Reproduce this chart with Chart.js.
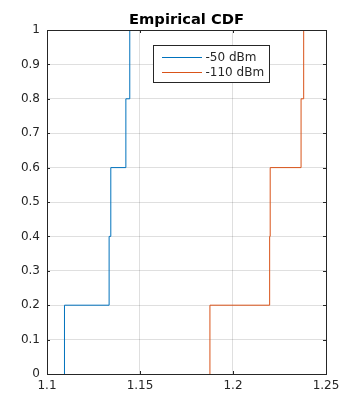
<!DOCTYPE html>
<html>
<head>
<meta charset="utf-8">
<script src="https://cdn.jsdelivr.net/npm/chart.js@4.4.0/dist/chart.umd.min.js"></script>
<style>
  html, body { margin: 0; padding: 0; background: #ffffff; }
  #wrap { width: 360px; height: 420px; position: relative; }
</style>
</head>
<body>
<div id="wrap"><canvas id="c" width="360" height="420"></canvas></div>
<script>
// ---- data ----
const seriesNames = ['-50 dBm', '-110 dBm'];
const samples50 = [1.1094, 1.1334, 1.1343, 1.1424, 1.1445];
const samples110 = [1.1876, 1.2197, 1.2200, 1.2366, 1.2380];
const cdfLevels = [0, 0.2, 0.4, 0.6, 0.8, 1.0];
const xTicks = [1.1, 1.15, 1.2, 1.25];
const xTickLabels = ['1.1', '1.15', '1.2', '1.25'];
const yTicks = [0, 0.1, 0.2, 0.3, 0.4, 0.5, 0.6, 0.7, 0.8, 0.9, 1];
const yTickLabels = ['0', '0.1', '0.2', '0.3', '0.4', '0.5', '0.6', '0.7', '0.8', '0.9', '1'];
const titleText = 'Empirical CDF';

// staircase points: start at (x1, 0), then (x_i, F_i)
function ecdfPoints(samples) {
  const pts = [{ x: samples[0], y: cdfLevels[0] }];
  samples.forEach((s, i) => pts.push({ x: s, y: cdfLevels[i + 1] }));
  return pts;
}

const AX = '#262626';
const FONT = 'DejaVu Sans';

const boxPlugin = {
  id: 'boxPlugin',
  afterDraw(chart) {
    const ctx = chart.ctx;
    const a = chart.chartArea;
    const xs = chart.scales.x, ys = chart.scales.y;
    ctx.save();
    // inner ticks
    ctx.strokeStyle = AX;
    ctx.lineWidth = 1;
    const tl = 3;
    ctx.beginPath();
    xTicks.forEach(v => {
      const px = Math.round(xs.getPixelForValue(v)) + 0.5;
      ctx.moveTo(px, a.bottom); ctx.lineTo(px, a.bottom - tl);
      ctx.moveTo(px, a.top); ctx.lineTo(px, a.top + tl);
    });
    yTicks.forEach(v => {
      const py = Math.round(ys.getPixelForValue(v)) + 0.5;
      ctx.moveTo(a.left, py); ctx.lineTo(a.left + tl, py);
      ctx.moveTo(a.right, py); ctx.lineTo(a.right - tl, py);
    });
    ctx.stroke();
    // box
    ctx.strokeRect(Math.round(a.left) + 0.5, Math.round(a.top) + 0.5,
                   Math.round(a.right - a.left), Math.round(a.bottom - a.top));
    // legend
    const lx = a.left + 106.5, ly = a.top + 15.5, lw = 116, lh = 37;
    ctx.fillStyle = '#ffffff';
    ctx.fillRect(lx, ly, lw, lh);
    ctx.strokeStyle = AX;
    ctx.strokeRect(lx, ly, lw, lh);
    ctx.font = '12px "' + FONT + '"';
    ctx.textBaseline = 'middle';
    ctx.textAlign = 'left';
    chart.data.datasets.forEach((ds, i) => {
      const ry = ly + 11.5 + i * 15;
      ctx.strokeStyle = ds.borderColor;
      ctx.lineWidth = 1;
      ctx.beginPath();
      ctx.moveTo(lx + 8.5, Math.round(ry) + 0.5);
      ctx.lineTo(lx + 48.5, Math.round(ry) + 0.5);
      ctx.stroke();
      ctx.fillStyle = AX;
      ctx.fillText(ds.label, lx + 52, ry + 1);
    });
    // title
    ctx.font = 'bold 14.7px "' + FONT + '"';
    ctx.textAlign = 'center';
    ctx.textBaseline = 'alphabetic';
    ctx.fillStyle = '#000000';
    ctx.fillText(titleText, (a.left + a.right) / 2, 24);
    ctx.restore();
  }
};

new Chart(document.getElementById('c'), {
  type: 'scatter',
  data: {
    datasets: [
      {
        label: seriesNames[0],
        data: ecdfPoints(samples50),
        showLine: true,
        stepped: 'before',
        borderColor: '#0072BD',
        backgroundColor: '#0072BD',
        borderWidth: 1,
        pointRadius: 0,
        fill: false
      },
      {
        label: seriesNames[1],
        data: ecdfPoints(samples110),
        showLine: true,
        stepped: 'before',
        borderColor: '#D95319',
        backgroundColor: '#D95319',
        borderWidth: 1,
        pointRadius: 0,
        fill: false
      }
    ]
  },
  options: {
    responsive: false,
    animation: false,
    devicePixelRatio: 1,
    layout: { padding: { top: 30, right: 34, left: 0, bottom: 0 } },
    plugins: {
      legend: { display: false },
      title: { display: false },
      tooltip: { enabled: false }
    },
    scales: {
      x: {
        type: 'linear',
        min: 1.1, max: 1.25,
        afterBuildTicks(s) { s.ticks = xTicks.map(v => ({ value: v })); },
        afterFit(s) { s.height = 46; },
        ticks: {
          callback: (v) => { const i = xTicks.findIndex(t => Math.abs(t - v) < 1e-9); return i >= 0 ? xTickLabels[i] : ''; },
          color: AX,
          font: { family: FONT, size: 12 },
          padding: 5,
          maxRotation: 0,
          autoSkip: false
        },
        grid: { color: 'rgba(38,38,38,0.15)', drawTicks: false, lineWidth: 1 },
        border: { display: true, color: AX }
      },
      y: {
        type: 'linear',
        min: 0, max: 1,
        afterBuildTicks(s) { s.ticks = yTicks.map(v => ({ value: v })); },
        afterFit(s) { s.width = 47; },
        ticks: {
          callback: (v) => { const i = yTicks.findIndex(t => Math.abs(t - v) < 1e-9); return i >= 0 ? yTickLabels[i] : ''; },
          color: AX,
          font: { family: FONT, size: 12 },
          padding: 7,
          autoSkip: false
        },
        grid: { color: 'rgba(38,38,38,0.15)', drawTicks: false, lineWidth: 1 },
        border: { display: true, color: AX }
      }
    }
  },
  plugins: [boxPlugin]
});
</script>
</body>
</html>
